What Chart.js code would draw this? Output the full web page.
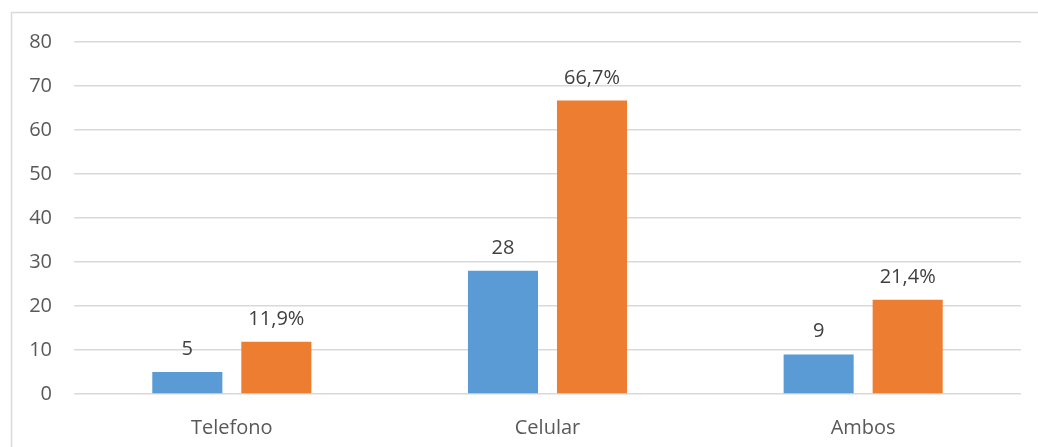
<!DOCTYPE html>
<html>
<head>
<meta charset="utf-8">
<script src="https://cdn.jsdelivr.net/npm/chart.js@4"></script>
<style>
  html, body { margin: 0; padding: 0; background: #fff; }
  #wrap { width: 1038px; height: 447px; position: relative; }
</style>
</head>
<body>
<div id="wrap"><canvas id="chart" width="1038" height="447"></canvas></div>
<script>
const categories = ['Telefono', 'Celular', 'Ambos'];
const counts = [5, 28, 9];
const percents = [11.9, 66.7, 21.4];
const yTicks = [0, 10, 20, 30, 40, 50, 60, 70, 80];

// frame around the chart (left and top edges visible in the picture)
const framePlugin = {
  id: 'frame',
  beforeDraw(chart) {
    const ctx = chart.ctx;
    ctx.save();
    ctx.strokeStyle = '#d9d9d9';
    ctx.lineWidth = 1.5;
    ctx.beginPath();
    ctx.moveTo(11.5, 447);
    ctx.lineTo(11.5, 12.5);
    ctx.lineTo(1038, 12.5);
    ctx.stroke();
    ctx.restore();
  }
};

// value labels above the bars
const labelPlugin = {
  id: 'barLabels',
  afterDatasetsDraw(chart) {
    const ctx = chart.ctx;
    ctx.save();
    ctx.font = '20px "Open Sans"';
    ctx.fillStyle = '#404040';
    ctx.textAlign = 'center';
    ctx.textBaseline = 'alphabetic';
    chart.data.datasets.forEach((ds, i) => {
      chart.getDatasetMeta(i).data.forEach((bar, j) => {
        const v = ds.data[j];
        const txt = i === 1 ? v.toFixed(1).replace('.', ',') + '%' : String(v);
        ctx.fillText(txt, bar.x, bar.y - 17);
      });
    });
    ctx.restore();
  }
};

new Chart(document.getElementById('chart'), {
  type: 'bar',
  data: {
    labels: categories,
    datasets: [
      { label: 'Cantidad', data: counts, backgroundColor: '#5b9bd5', borderWidth: 0 },
      { label: 'Porcentaje', data: percents, backgroundColor: '#ed7d31', borderWidth: 0 }
    ]
  },
  options: {
    responsive: false,
    animation: false,
    categoryPercentage: 0.564,
    barPercentage: 0.787,
    layout: { padding: { top: 42, right: 17, left: 0, bottom: 0 } },
    plugins: {
      legend: { display: false },
      tooltip: { enabled: false }
    },
    scales: {
      x: {
        grid: { display: false },
        border: { display: false },
        ticks: { color: '#595959', font: { family: 'Open Sans', size: 20 }, padding: 14 },
        afterFit(scale) { scale.height = 53; }
      },
      y: {
        min: 0,
        max: 80,
        afterBuildTicks(scale) { scale.ticks = yTicks.map(v => ({ value: v })); },
        grid: { color: '#d9d9d9', lineWidth: 1.5, drawTicks: false },
        border: { display: false },
        ticks: { color: '#595959', font: { family: 'Open Sans', size: 20 }, padding: 22 },
        afterFit(scale) { scale.width = 74; }
      }
    }
  },
  plugins: [framePlugin, labelPlugin]
});
</script>
</body>
</html>
